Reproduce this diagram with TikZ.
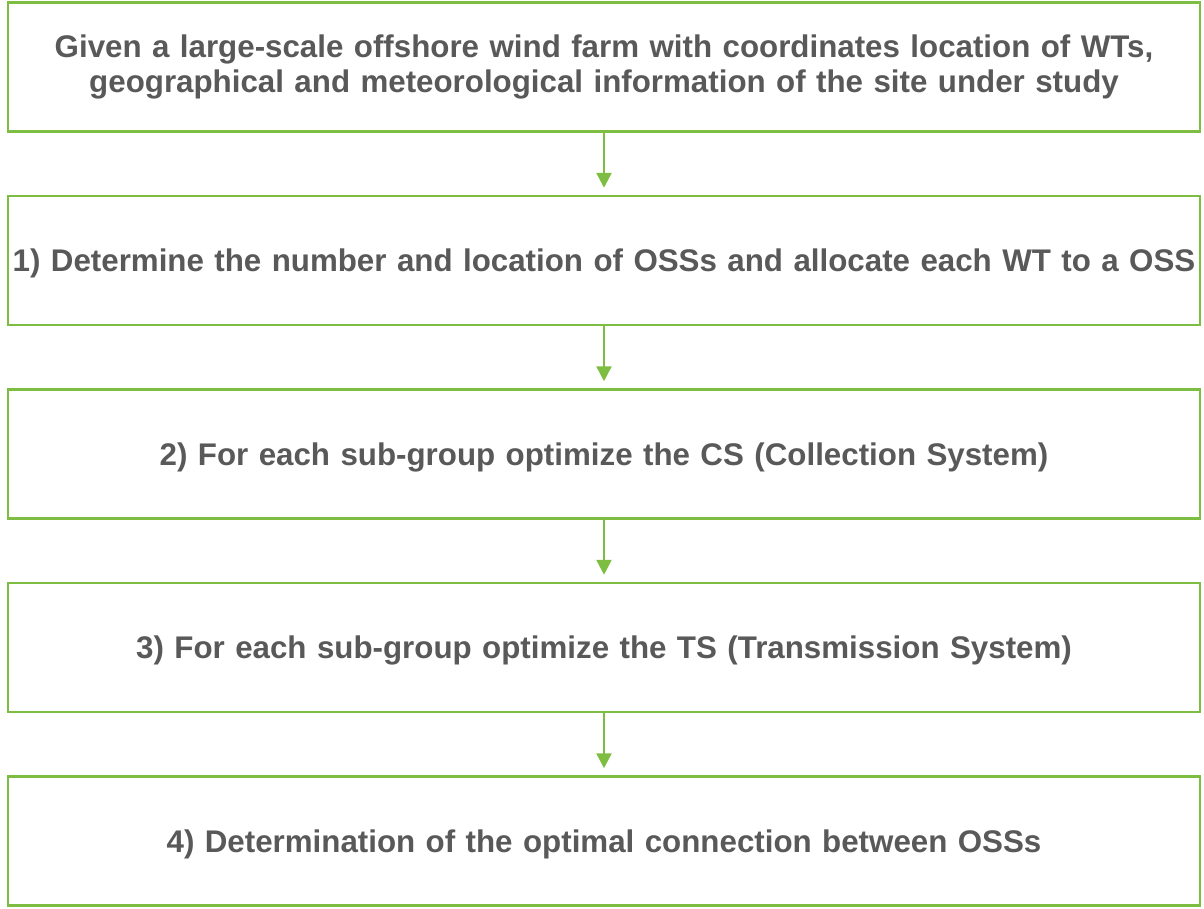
\documentclass[tikz,border=0pt]{standalone}
\usepackage{fontspec}
\setmainfont{Liberation Sans}
\usetikzlibrary{positioning,arrows.meta}
\definecolor{stepgreen}{RGB}{125,190,66}
\definecolor{stepgray}{RGB}{89,89,89}
\tikzset{
  stepbox/.style={draw=stepgreen,fill=white,line width=2.5pt,minimum width=1192pt,minimum height=129pt,
    text width=1192pt,text depth=0pt,align=center,inner sep=0pt,text=stepgray,font=\bfseries\fontsize{31.3}{35}\selectfont},
  flow/.style={draw=stepgreen,line width=2.5pt,shorten >=7pt,-{Triangle[length=15pt,width=15pt]}}
}
\begin{document}
\begin{tikzpicture}[x=1pt,y=1pt,node distance=62pt]
  \useasboundingbox (0,0) rectangle (1204,-908);
  \node[stepbox,text depth={}] (given) at (604,-67) {Given a large-scale offshore wind farm with coordinates location of WTs,\\ geographical and meteorological information of the site under study};
  \node[stepbox,below=of given] (allocate) {1) Determine the number and location of OSSs and allocate each WT to a OSS};
  \node[stepbox,below=of allocate] (collection) {2) For each sub-group optimize the CS (Collection System)};
  \node[stepbox,below=of collection] (transmission) {3) For each sub-group optimize the TS (Transmission System)};
  \node[stepbox,below=of transmission] (connection) {4) Determination of the optimal connection between OSSs};
  % arrows
  \draw[flow] (given) -- (allocate);
  \draw[flow] (allocate) -- (collection);
  \draw[flow] (collection) -- (transmission);
  \draw[flow] (transmission) -- (connection);
\end{tikzpicture}
\end{document}
